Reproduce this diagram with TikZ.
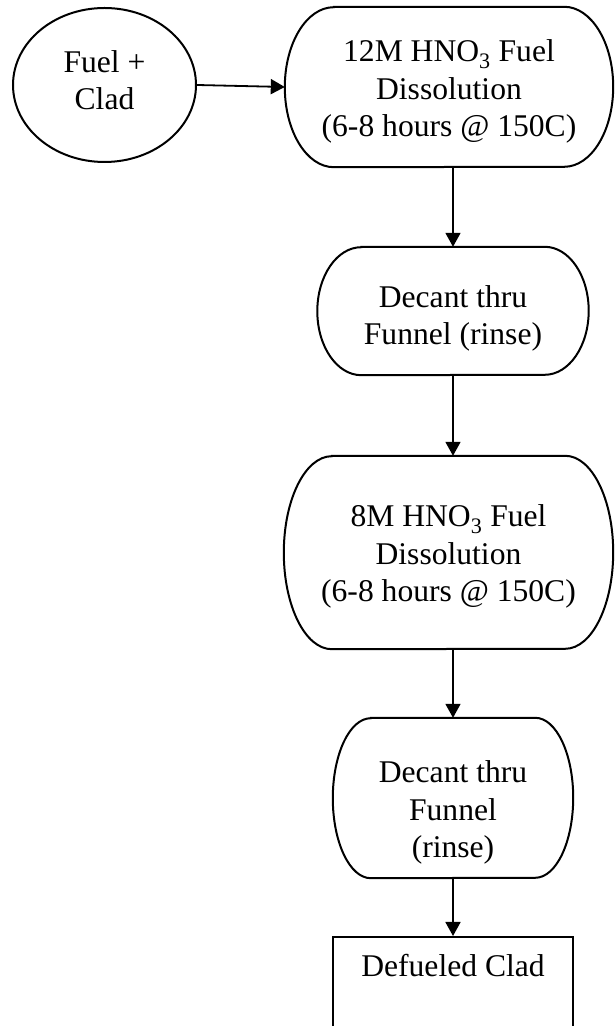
\documentclass[tikz,border=0pt]{standalone}
\usepackage{fontspec}
\setmainfont{Liberation Serif}
\usetikzlibrary{arrows.meta,shapes.geometric}
\tikzset{
  proc/.style={inner sep=0pt, align=center, text depth=0pt,
    font=\fontsize{31.6}{37.5}\selectfont},
  outline/.style={line width=2pt},
  flow/.style={-{Triangle[length=14pt,width=15pt]}, line width=1.8pt},
}
\begin{document}
\begin{tikzpicture}[x=1pt,y=1pt]
\useasboundingbox (0,0) rectangle (614,1026);
\clip (0,0) rectangle (614,1026);

\node[proc, ellipse, draw, outline, text height=50pt,
  minimum width=183pt, minimum height=154pt] (fuel) at (104.5,941) {Fuel +\\Clad};

\node[proc, minimum width=328pt, minimum height=160pt, text height=100pt] (diss1) at (449,939)
  {12M HNO\textsubscript{3} Fuel\\Dissolution\\(6-8 hours @ 150C)};
\node[proc, minimum width=271pt, minimum height=128pt, text height=68pt] (dec1) at (453,715)
  {Decant thru\\Funnel (rinse)};
\node[proc, minimum width=329pt, minimum height=193pt, text height=99pt] (diss2) at (448.5,473.5)
  {8M HNO\textsubscript{3} Fuel\\Dissolution\\(6-8 hours @ 150C)};
\node[proc, minimum width=240pt, minimum height=160pt, text height=120pt] (dec2) at (453,228)
  {Decant thru\\Funnel\\(rinse)};

\node[draw, outline, inner sep=0pt, anchor=north,
  font=\fontsize{31.6}{37.5}\selectfont,
  minimum width=240pt, text height=40pt, text depth=100pt] (clad) at (453,90)
  {Defueled Clad};

% terminator outlines: name / end radius / half height
\foreach \n/\r/\h in {diss1/49/80, dec1/44/64, diss2/48/96.5, dec2/38/80}
  \draw[outline] ([xshift=\r pt]\n.north west) -- ([xshift=-\r pt]\n.north east)
    arc[start angle=90, end angle=-90, x radius=\r pt, y radius=\h pt]
    -- ([xshift=\r pt]\n.south west)
    arc[start angle=270, end angle=90, x radius=\r pt, y radius=\h pt] -- cycle;

\draw[flow] (fuel.east) -- (diss1.west);
\draw[flow] (diss1.south -| dec1.north) -- (dec1.north);
\draw[flow] (dec1.south) -- (dec1.south |- diss2.north);
\draw[flow] (diss2.south -| dec2.north) -- (dec2.north);
\draw[flow] (dec2.south) -- (clad.north);
\end{tikzpicture}
\end{document}
